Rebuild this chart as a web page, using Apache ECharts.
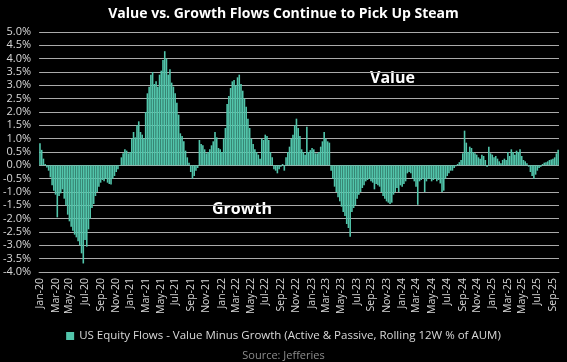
<!DOCTYPE html>
<html>
<head>
<meta charset="utf-8">
<script src="https://cdn.jsdelivr.net/npm/echarts@6/dist/echarts.min.js"></script>
<style>
html,body{margin:0;padding:0;background:#000;}
#c{width:567px;height:362px;}
</style>
</head>
<body>
<div id="c"></div>
<script>
// Weekly series: US Equity Flows - Value Minus Growth (% of AUM), first week 2020-01-03
const startDate = '2020-01-03';
const tickLabels = ['Jan-20','Mar-20','May-20','Jul-20','Sep-20','Nov-20','Jan-21','Mar-21','May-21','Jul-21','Sep-21','Nov-21',
  'Jan-22','Mar-22','May-22','Jul-22','Sep-22','Nov-22','Jan-23','Mar-23','May-23','Jul-23','Sep-23','Nov-23',
  'Jan-24','Mar-24','May-24','Jul-24','Sep-24','Nov-24','Jan-25','Mar-25','May-25','Jul-25','Sep-25'];
const values2020 = [0.83,0.58,0.25,0.05,-0.08,-0.2,-0.45,-0.75,-0.95,-1.1,-1.95,-1.15,-1.05,-0.9,-1.25,-1.5,-1.85,-2.1,-2.3,-2.45,
  -2.6,-2.7,-2.85,-3.0,-3.3,-3.68,-2.8,-3.05,-2.4,-2.0,-1.6,-1.45,-1.15,-1.0,-0.8,-0.65,-0.55,-0.6,-0.5,-0.65,
  -0.7,-0.72,-0.5,-0.4,-0.25,-0.15,-0.02,0.3,0.45,0.6,0.55,0.45];
const values2021 = [0.5,1.0,1.25,1.05,1.5,1.65,1.25,1.15,1.0,2.0,2.7,2.95,3.4,3.5,3.05,3.15,2.95,3.4,3.55,3.95,
  4.28,4.0,3.4,3.6,3.1,2.95,2.7,2.35,1.9,1.2,1.1,0.9,0.55,0.3,0.1,-0.25,-0.5,-0.4,-0.2,-0.1,
  0.95,0.8,0.75,0.6,0.45,0.5,0.6,0.75,0.9,1.25,1.05,0.65];
const values2022 = [0.6,0.5,1.0,1.4,2.3,2.6,2.9,3.15,3.2,3.0,3.3,3.4,3.05,2.8,2.5,2.2,1.75,1.4,1.0,0.8,
  0.6,0.5,0.4,0.25,1.0,0.95,1.15,1.1,0.95,0.5,0.3,-0.15,-0.2,-0.3,-0.15,-0.05,0.05,-0.2,0.3,0.5,
  0.7,1.0,1.15,1.5,1.75,1.4,1.1,0.6,0.5,0.4,1.45,0.5];
const values2023 = [0.57,0.65,0.6,0.45,0.45,0.5,0.7,0.9,1.25,1.0,0.9,0.85,-0.2,-0.5,-0.8,-1.0,-1.2,-1.35,-1.55,-1.75,
  -1.9,-2.2,-2.35,-2.68,-1.75,-1.6,-1.5,-1.25,-1.1,-1.0,-0.85,-0.75,-0.6,-0.55,-0.5,-0.6,-0.65,-0.9,-0.7,-0.75,
  -0.8,-1.0,-1.15,-1.25,-1.35,-1.4,-1.45,-1.4,-1.1,-1.0,-0.85,-1.0];
const values2024 = [-0.75,-0.8,-0.7,-0.6,-0.3,-0.25,-0.3,-0.5,-0.6,-0.8,-1.48,-0.6,-0.55,-0.5,-1.0,-0.6,-0.5,-0.5,-0.6,-0.55,
  -0.5,-0.6,-0.55,-0.68,-1.0,-0.95,-0.5,-0.4,-0.3,-0.2,-0.2,-0.1,-0.03,0.05,0.12,0.2,0.45,1.3,0.85,0.5,
  0.7,0.65,0.5,0.45,0.4,0.3,0.25,0.4,0.35,0.2,-0.05,0.7];
const values2025 = [0.45,0.4,0.3,0.35,0.25,0.15,0.08,0.2,0.25,0.2,0.5,0.35,0.6,0.5,0.4,0.55,0.5,0.6,0.35,0.2,
  0.15,0.08,-0.05,-0.25,-0.4,-0.5,-0.35,-0.2,-0.1,-0.05,0.05,0.1,0.12,0.15,0.2,0.22,0.25,0.3,0.45,0.58];

const values = [].concat(values2020, values2021, values2022, values2023, values2024, values2025);
const MONTHS = ['Jan','Feb','Mar','Apr','May','Jun','Jul','Aug','Sep','Oct','Nov','Dec'];

const categories = [];
const labelAt = {};
{
  const s = new Date(startDate + 'T00:00:00Z');
  for (let i = 0; i < values.length; i++) {
    const d = new Date(s.getTime() + i * 7 * 86400000);
    const lab = MONTHS[d.getUTCMonth()] + '-' + String(d.getUTCFullYear()).slice(2);
    categories.push(d.toISOString().slice(0, 10));
    if (d.getUTCDate() <= 7 && tickLabels.indexOf(lab) >= 0) labelAt[i] = lab;
  }
}

const chart = echarts.init(document.getElementById('c'), null, {renderer: 'canvas'});
const FONT = 'Open Sans';
chart.setOption({
  backgroundColor: '#000',
  animation: false,
  textStyle: {fontFamily: FONT},
  title: [{
    text: 'Value vs. Growth Flows Continue to Pick Up Steam',
    left: 'center', top: 2,
    textStyle: {color: '#fff', fontSize: 14, fontWeight: 'bold', fontFamily: FONT}
  }, {
    text: 'Source: Jefferies',
    left: 'center', top: 345,
    textStyle: {color: '#8c8c8c', fontSize: 11, fontWeight: 'normal', fontFamily: FONT}
  }],
  legend: {
    data: ['US Equity Flows - Value Minus Growth (Active & Passive, Rolling 12W % of AUM)'],
    left: 'center', top: 325,
    icon: 'rect', itemWidth: 8, itemHeight: 8, itemGap: 4,
    textStyle: {color: '#d9d9d9', fontSize: 11.5, fontFamily: FONT}
  },
  grid: {left: 37, right: 8, top: 32, bottom: 90, containLabel: false},
  xAxis: {
    type: 'category',
    data: categories,
    boundaryGap: true,
    axisLine: {show: true, onZero: false, lineStyle: {color: '#aaaaaa'}},
    axisTick: {show: false},
    axisLabel: {
      rotate: 90, color: '#d9d9d9', fontSize: 10.5, margin: 6,
      interval: (idx) => labelAt[idx] !== undefined,
      formatter: (val, idx) => labelAt[idx] || ''
    },
    splitLine: {show: false}
  },
  yAxis: {
    type: 'value', min: -4, max: 5, interval: 0.5,
    axisLine: {show: false}, axisTick: {show: false},
    axisLabel: {color: '#d9d9d9', fontSize: 11, margin: 8, formatter: v => v.toFixed(1) + '%'},
    splitLine: {lineStyle: {color: '#aaaaaa', width: 1.2}}
  },
  graphic: [
    {type: 'text', left: 370, top: 70, style: {text: 'Value', fill: '#fff', font: 'bold 16px "Open Sans"'}},
    {type: 'text', left: 212, top: 201, style: {text: 'Growth', fill: '#fff', font: 'bold 16px "Open Sans"'}}
  ],
  series: [{
    name: 'US Equity Flows - Value Minus Growth (Active & Passive, Rolling 12W % of AUM)',
    type: 'bar',
    data: values,
    barCategoryGap: '8%',
    itemStyle: {color: '#52c5ab'}
  }]
});
</script>
</body>
</html>
